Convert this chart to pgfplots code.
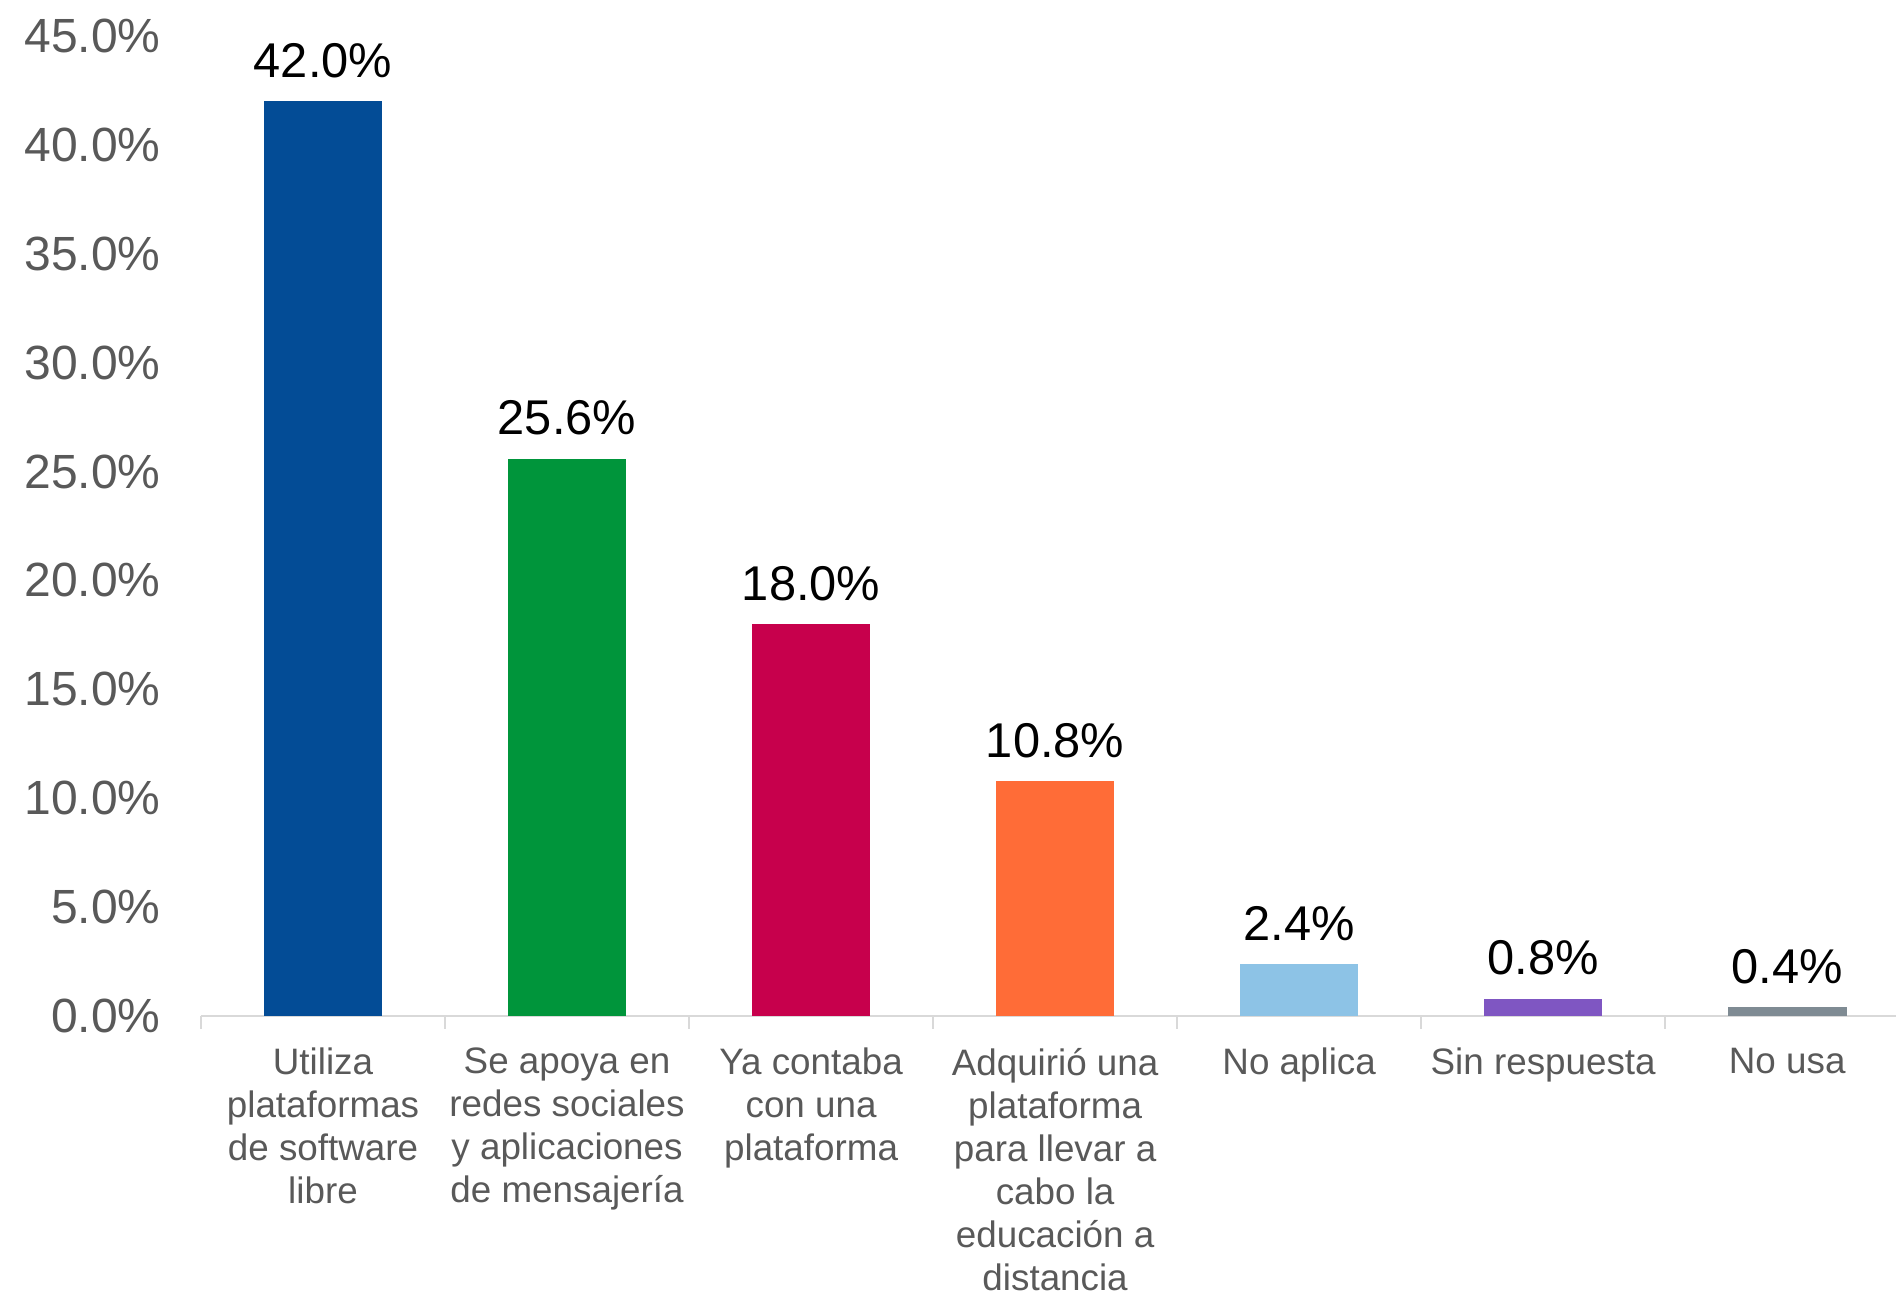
\documentclass[border=0pt]{standalone}
\usepackage{pgfplots}
\pgfplotsset{compat=1.18}
\usepackage{fontspec}
\setmainfont{Liberation Sans}
\definecolor{c1}{HTML}{034C96}
\definecolor{c2}{HTML}{00953B}
\definecolor{c3}{HTML}{C7004C}
\definecolor{c4}{HTML}{FF6C37}
\definecolor{c5}{HTML}{8DC3E6}
\definecolor{c6}{HTML}{7F56C2}
\definecolor{c7}{HTML}{7F8B93}
\definecolor{tickgray}{HTML}{595959}
\definecolor{axgray}{HTML}{D9D9D9}
\begin{document}
\begin{tikzpicture}
\begin{axis}[
  at={(0pt,0pt)}, anchor=south west,
  scale only axis, width=424pt, height=245pt,
  xmin=-0.5, xmax=6.45, ymin=0, ymax=45,
  ybar,
  /pgf/number format/assume math mode=true,
  axis x line*=bottom, axis y line*=left,
  x axis line style={draw=axgray, line width=0.6pt},
  y axis line style={draw=none},
  ytick={0,5,...,45},
  yticklabel={\pgfmathprintnumber[fixed,fixed zerofill,precision=1]{\tick}\%},
  yticklabel style={font=\fontsize{12pt}{14pt}\selectfont, text=tickgray, anchor=east, inner sep=0pt, xshift=-9.9pt},
  ytick style={draw=none},
  xtick={0,...,6},
  xticklabels={{Utiliza\\plataformas\\de software\\libre},
    {Se apoya en\\redes sociales\\y aplicaciones\\de mensajería},
    {Ya contaba\\con una\\plataforma},
    {Adquirió una\\plataforma\\para llevar a\\cabo la\\educación a\\distancia},
    {No aplica},{Sin respuesta},{No usa}},
  xticklabel style={font=\fontsize{9.2pt}{10.75pt}\selectfont, text=tickgray, align=center, anchor=north, inner sep=0pt, yshift=-7.85pt},
  tick align=outside,
  major tick length=0pt,
  major x tick style={draw=none},
  minor xtick={-0.5,0.5,1.5,2.5,3.5,4.5,5.5},
  minor tick length=3.2pt,
  minor x tick style={draw=axgray, line width=0.6pt},
  bar width=0.486,
  nodes near coords={\pgfmathprintnumber[fixed,fixed zerofill,precision=1]{\pgfplotspointmeta}\%},
  every node near coord/.append style={font=\fontsize{12.2pt}{14pt}\selectfont, text=black, anchor=south, inner sep=0pt, yshift=5.6pt},
  clip=false,
]
\addplot[fill=c1, draw=none, bar shift=0pt] coordinates {(0,42.0)};
\addplot[fill=c2, draw=none, bar shift=0pt] coordinates {(1,25.6)};
\addplot[fill=c3, draw=none, bar shift=0pt] coordinates {(2,18.0)};
\addplot[fill=c4, draw=none, bar shift=0pt] coordinates {(3,10.8)};
\addplot[fill=c5, draw=none, bar shift=0pt] coordinates {(4,2.4)};
\addplot[fill=c6, draw=none, bar shift=0pt] coordinates {(5,0.8)};
\addplot[fill=c7, draw=none, bar shift=0pt] coordinates {(6,0.4)};
\end{axis}
\pgfresetboundingbox
\useasboundingbox (-50.25pt,-68.5pt) rectangle (423.75pt,254pt);
\end{tikzpicture}
\end{document}
